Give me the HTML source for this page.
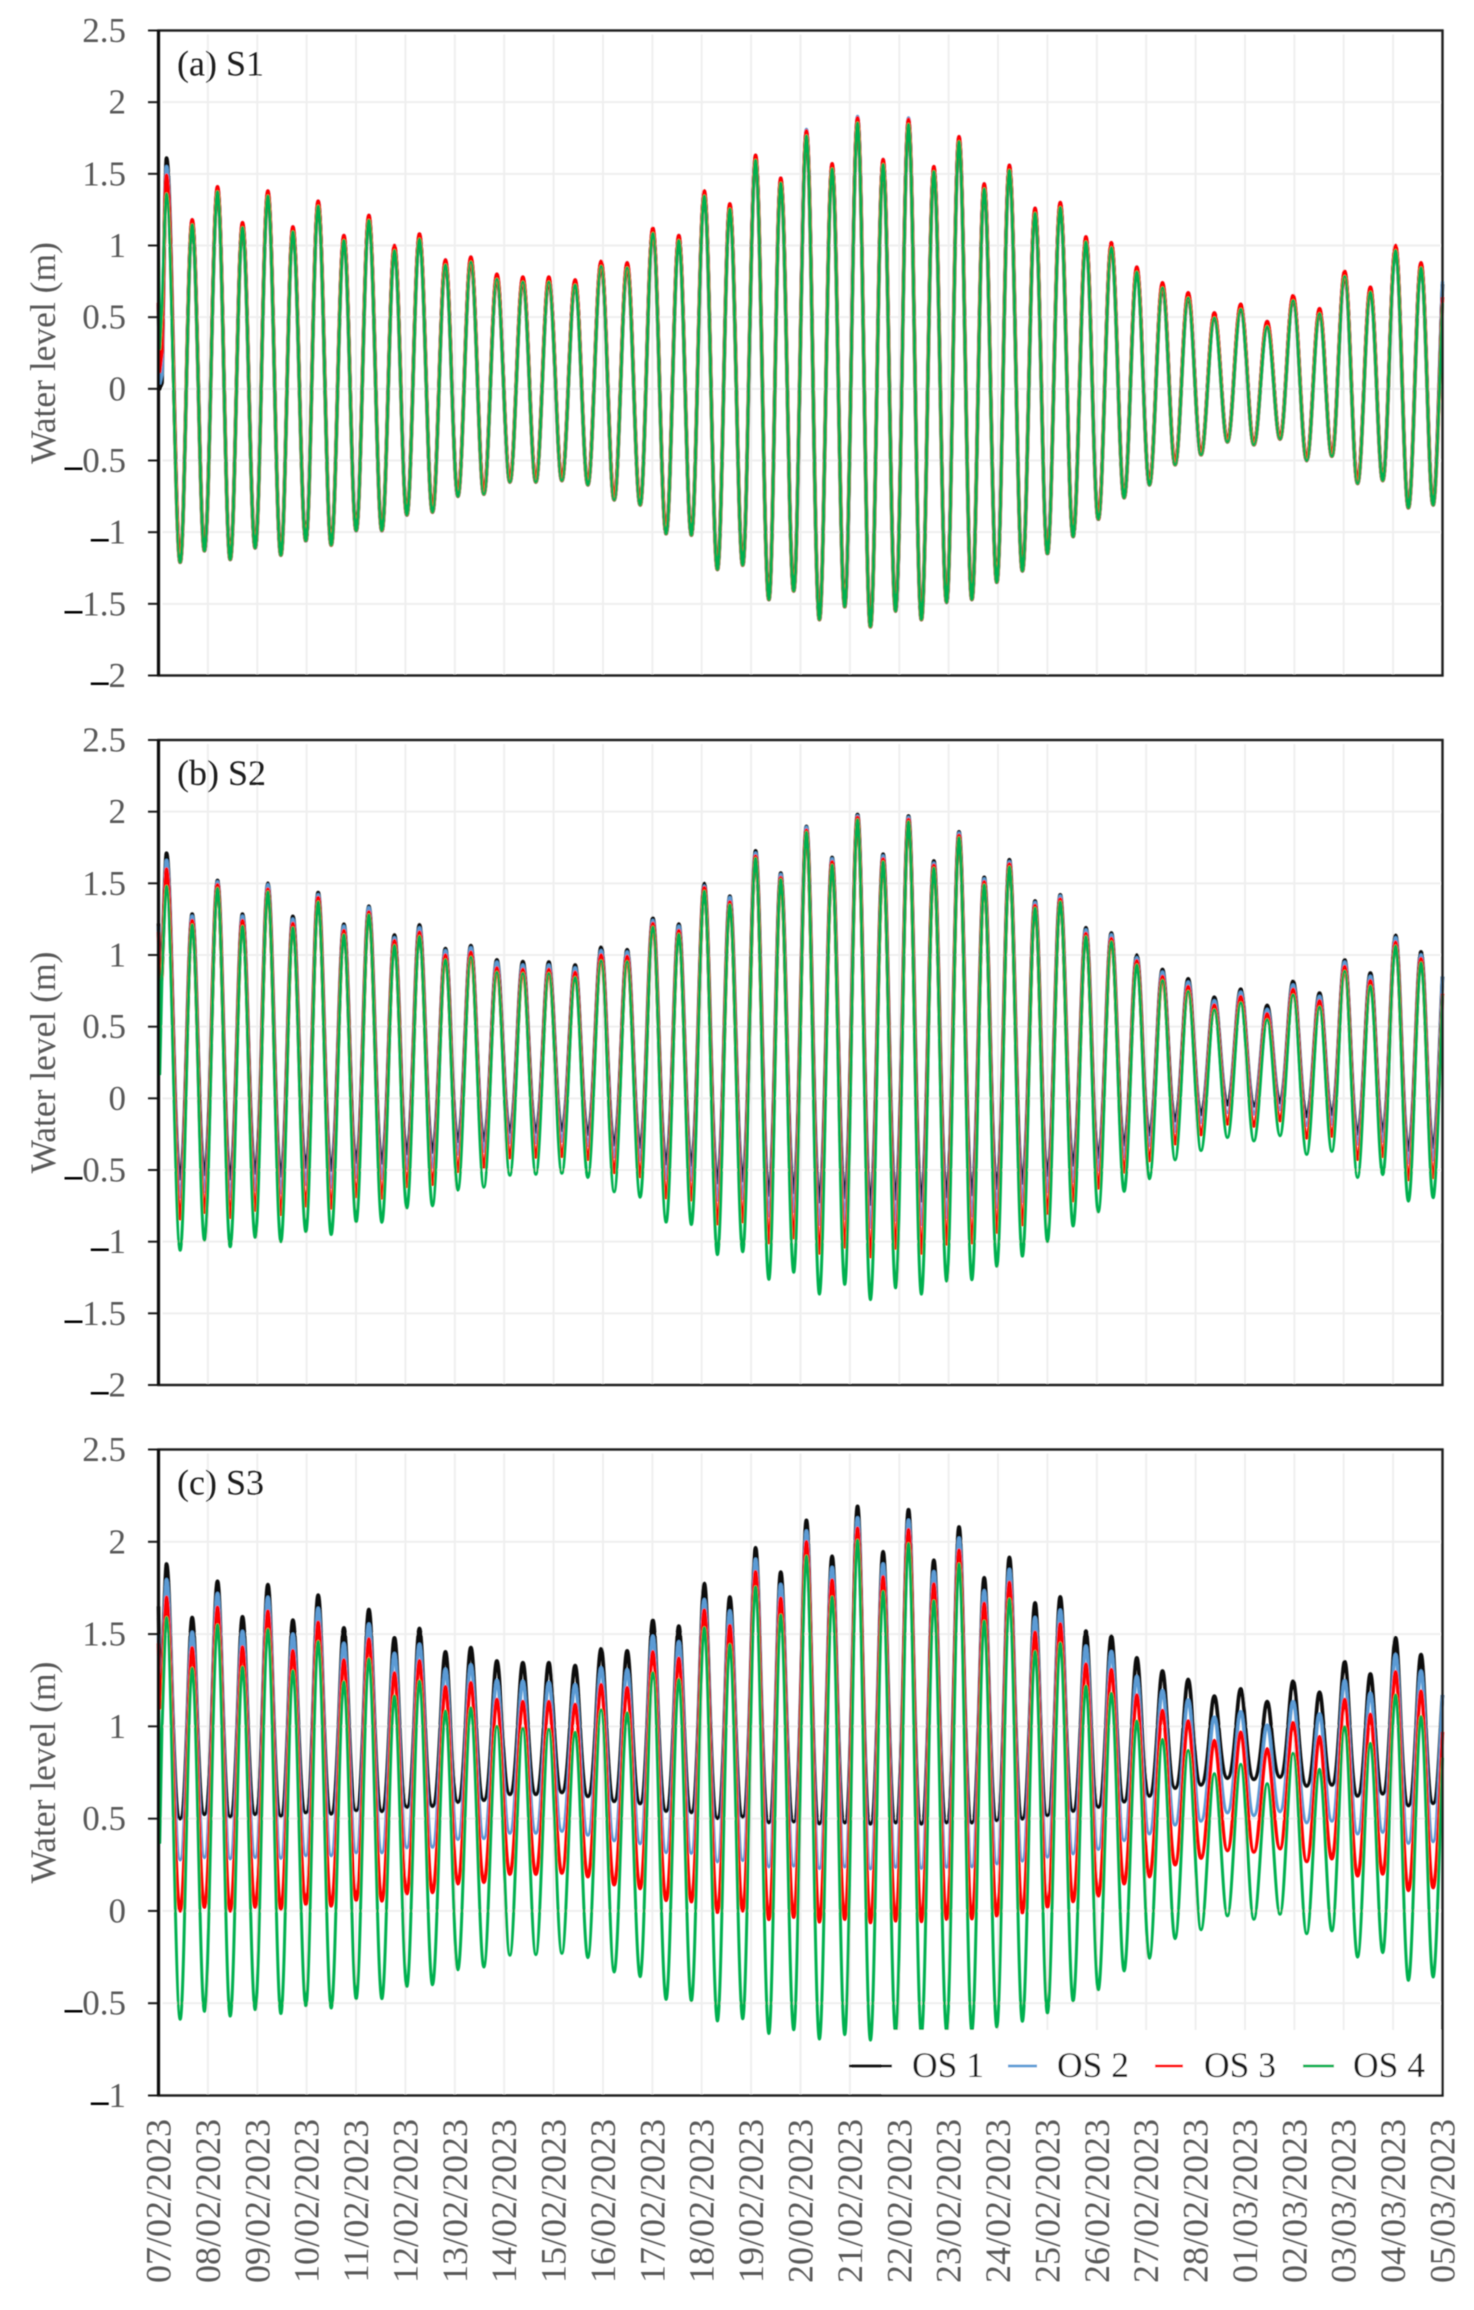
<!DOCTYPE html>
<html lang="en">
<head>
<meta charset="utf-8">
<title>Water level time series, scenarios S1 to S3</title>
<style>
html,body{margin:0;padding:0;background:#fff;}
body{width:1474px;height:2310px;overflow:hidden;}
svg{display:block;}
text{font-family:"Liberation Serif",serif;}
</style>
</head>
<body>
<svg id="chart" xmlns="http://www.w3.org/2000/svg" width="1474" height="2310" viewBox="0 0 1474 2310">
  <defs>
    <filter id="soft" x="-2%" y="-2%" width="104%" height="104%"><feGaussianBlur stdDeviation="0.6"/></filter>
  </defs>
  <rect width="1474" height="2310" fill="#ffffff"/>
  <g id="root" filter="url(#soft)"></g>
</svg>
<script>
// ---- shared categories ----
const dateLabels = ["07/02/2023","08/02/2023","09/02/2023","10/02/2023","11/02/2023","12/02/2023","13/02/2023","14/02/2023","15/02/2023","16/02/2023","17/02/2023","18/02/2023","19/02/2023","20/02/2023","21/02/2023","22/02/2023","23/02/2023","24/02/2023","25/02/2023","26/02/2023","27/02/2023","28/02/2023","01/03/2023","02/03/2023","03/03/2023","04/03/2023","05/03/2023"];
const ticksFrom2p5ToMinus2 = ["2.5","2","1.5","1","0.5","0","-0.5","-1","-1.5","-2"];
const ticksFrom2p5ToMinus1 = ["2.5","2","1.5","1","0.5","0","-0.5","-1"];
const legendLabels = ["OS 1","OS 2","OS 3","OS 4"];

// ---- times of the tidal extrema, in days since 07/02/2023 ----
const peakDays = [.162,.682,1.195,1.701,2.215,2.721,3.233,3.754,4.26,4.778,5.284,5.811,6.325,6.852,7.378,7.904,8.437,8.963,9.49,10.01,10.536,11.052,11.569,12.09,12.6,13.12,13.64,14.155,14.673,15.187,15.7,16.21,16.72,17.23,17.75,18.26,18.78,19.295,19.81,20.33,20.85,21.38,21.915,22.45,22.975,23.51,24.02,24.54,25.05,25.565];
const troughDays = [.439,.931,1.452,1.958,2.478,2.984,3.497,4.003,4.523,5.029,5.548,6.062,6.588,7.115,7.641,8.168,8.694,9.227,9.753,10.279,10.79,11.318,11.83,12.36,12.863,13.383,13.896,14.416,14.926,15.448,15.959,16.47,16.975,17.493,18.0,18.52,19.03,19.553,20.065,20.585,21.11,21.645,22.18,22.71,23.25,23.76,24.28,24.79,25.31,25.81];
const openingDays = [0,.025,.07];
const closingDay = 26;

// ---- (a) S1 ----
const s1Os1Peaks = [1.61,1.17,1.4,1.15,1.37,1.12,1.3,1.06,1.2,.99,1.07,.89,.91,.79,.77,.77,.75,.88,.87,1.11,1.06,1.37,1.28,1.62,1.46,1.79,1.56,1.88,1.59,1.87,1.54,1.75,1.42,1.55,1.25,1.29,1.05,1.01,.84,.73,.66,.52,.58,.46,.64,.55,.81,.7,.99,.87];
const s1Os2Peaks = [1.55,1.18,1.41,1.16,1.38,1.13,1.31,1.07,1.21,1.0,1.08,.9,.92,.8,.78,.78,.76,.89,.88,1.12,1.07,1.38,1.29,1.63,1.47,1.81,1.57,1.9,1.6,1.89,1.55,1.76,1.43,1.56,1.26,1.3,1.06,1.02,.85,.74,.67,.53,.59,.47,.65,.56,.82,.71,1.0,.88];
const s1Os3Peaks = [1.49,1.18,1.41,1.16,1.38,1.13,1.31,1.07,1.21,1.0,1.08,.9,.92,.8,.78,.78,.76,.89,.88,1.12,1.07,1.38,1.29,1.63,1.47,1.8,1.57,1.89,1.6,1.88,1.55,1.76,1.43,1.56,1.26,1.3,1.06,1.02,.85,.74,.67,.53,.59,.47,.65,.56,.82,.71,1.0,.88];
const s1Os4Peaks = [1.36,1.145,1.375,1.125,1.345,1.095,1.275,1.035,1.175,.965,1.045,.865,.885,.765,.745,.745,.725,.855,.845,1.085,1.035,1.345,1.255,1.595,1.435,1.765,1.535,1.855,1.565,1.845,1.515,1.725,1.395,1.525,1.225,1.265,1.025,.985,.815,.705,.635,.495,.555,.435,.615,.525,.785,.675,.965,.845];
const s1Troughs = [-1.21,-1.13,-1.19,-1.11,-1.16,-1.06,-1.09,-.99,-.99,-.88,-.86,-.75,-.735,-.65,-.65,-.64,-.67,-.775,-.81,-1.01,-1.02,-1.26,-1.23,-1.47,-1.41,-1.61,-1.52,-1.66,-1.55,-1.61,-1.49,-1.47,-1.35,-1.27,-1.15,-1.03,-.91,-.76,-.67,-.53,-.46,-.37,-.39,-.35,-.5,-.47,-.66,-.64,-.83,-.81];
const s1Os1Opening = [.6,0,.04];
const s1Os2Opening = [.6,.04,.1];
const s1Os3Opening = [.6,.12,.25];
const s1Os4Opening = [.95,.28,.55];
const s1Closing = [.73,.75,.64,.6];

// ---- (b) S2 ----
const s2Os1Peaks = [1.71,1.285,1.52,1.285,1.5,1.27,1.435,1.215,1.34,1.14,1.21,1.045,1.066,.966,.954,.951,.93,1.054,1.037,1.257,1.216,1.498,1.41,1.727,1.571,1.897,1.68,1.982,1.703,1.97,1.656,1.859,1.542,1.665,1.377,1.42,1.19,1.154,.999,.899,.834,.705,.761,.649,.816,.734,.966,.875,1.137,1.022];
const s2Os2Peaks = [1.66,1.27,1.51,1.27,1.49,1.25,1.42,1.2,1.33,1.12,1.19,1.03,1.05,.95,.93,.93,.91,1.03,1.02,1.24,1.2,1.48,1.4,1.71,1.56,1.89,1.67,1.97,1.69,1.96,1.64,1.85,1.53,1.65,1.365,1.41,1.175,1.14,.98,.88,.81,.68,.74,.62,.79,.71,.95,.85,1.12,1.0];
const s2Os3Peaks = [1.6,1.24,1.49,1.24,1.46,1.22,1.4,1.17,1.3,1.1,1.16,1.0,1.02,.91,.9,.9,.88,1.0,.99,1.22,1.17,1.47,1.37,1.69,1.54,1.87,1.65,1.96,1.67,1.945,1.625,1.835,1.51,1.635,1.345,1.39,1.15,1.115,.96,.85,.78,.65,.71,.59,.76,.68,.92,.82,1.09,.975];
const s2Os4Peaks = [1.48,1.21,1.465,1.2,1.44,1.19,1.37,1.14,1.28,1.066,1.13,.967,.985,.88,.872,.872,.843,.96,.954,1.195,1.145,1.445,1.35,1.674,1.527,1.856,1.627,1.944,1.65,1.93,1.606,1.818,1.489,1.615,1.327,1.37,1.128,1.092,.931,.822,.746,.617,.667,.549,.722,.637,.887,.784,1.063,.946];
const s2Os1Troughs = [-.56,-.53,-.56,-.52,-.54,-.48,-.5,-.445,-.45,-.385,-.375,-.3,-.294,-.235,-.235,-.223,-.25,-.323,-.34,-.455,-.464,-.587,-.573,-.675,-.655,-.72,-.69,-.737,-.7,-.714,-.684,-.67,-.626,-.59,-.535,-.464,-.411,-.323,-.253,-.156,-.112,-.044,-.053,-.029,-.126,-.112,-.247,-.229,-.361,-.341];
const s2Os2Troughs = [-.69,-.65,-.69,-.64,-.66,-.6,-.62,-.55,-.56,-.49,-.48,-.39,-.37,-.31,-.31,-.3,-.33,-.41,-.43,-.56,-.57,-.71,-.7,-.82,-.79,-.88,-.84,-.9,-.85,-.88,-.83,-.82,-.76,-.72,-.65,-.58,-.5,-.41,-.33,-.23,-.17,-.1,-.11,-.08,-.19,-.18,-.32,-.3,-.45,-.43];
const s2Os3Troughs = [-.84,-.795,-.83,-.78,-.81,-.75,-.765,-.685,-.695,-.615,-.6,-.51,-.48,-.414,-.41,-.405,-.426,-.517,-.546,-.693,-.708,-.875,-.86,-1.007,-.972,-1.08,-1.037,-1.104,-1.045,-1.08,-1.016,-1.007,-.934,-.881,-.802,-.714,-.626,-.514,-.435,-.317,-.253,-.179,-.194,-.156,-.276,-.264,-.426,-.405,-.567,-.552];
const s2Os4Troughs = [-1.06,-.99,-1.035,-.97,-1.0,-.93,-.95,-.86,-.865,-.765,-.75,-.64,-.62,-.537,-.53,-.523,-.552,-.652,-.69,-.863,-.88,-1.09,-1.07,-1.263,-1.213,-1.366,-1.298,-1.404,-1.322,-1.366,-1.275,-1.266,-1.172,-1.101,-1.0,-.89,-.793,-.649,-.561,-.429,-.364,-.273,-.297,-.261,-.391,-.37,-.552,-.532,-.717,-.693];
const s2Os1Opening = [1.22,.85,.95];
const s2Os2Opening = [1.2,.8,.9];
const s2Os3Opening = [1.16,.75,.85];
const s2Os4Opening = [1.05,.17,.85];
const s2Closing = [.85,.85,.73,.72];

// ---- (c) S3 ----
const s3Os1Peaks = [1.88,1.59,1.786,1.594,1.768,1.576,1.711,1.534,1.633,1.48,1.53,1.404,1.427,1.354,1.345,1.345,1.329,1.42,1.409,1.575,1.543,1.774,1.701,1.968,1.836,2.116,1.922,2.192,1.946,2.174,1.9,2.08,1.805,1.916,1.669,1.702,1.516,1.489,1.371,1.3,1.254,1.164,1.203,1.134,1.245,1.185,1.35,1.284,1.48,1.389];
const s3Os2Peaks = [1.795,1.51,1.72,1.515,1.7,1.5,1.64,1.45,1.555,1.395,1.445,1.31,1.333,1.249,1.244,1.237,1.226,1.317,1.306,1.489,1.459,1.687,1.626,1.906,1.769,2.059,1.861,2.13,1.88,2.117,1.838,2.02,1.735,1.85,1.59,1.63,1.435,1.405,1.27,1.194,1.143,1.05,1.08,1.007,1.134,1.068,1.248,1.179,1.389,1.299];
const s3Os3Peaks = [1.7,1.426,1.645,1.43,1.624,1.41,1.564,1.36,1.474,1.29,1.356,1.215,1.237,1.146,1.135,1.135,1.119,1.226,1.21,1.404,1.37,1.63,1.546,1.838,1.694,2.0,1.792,2.074,1.81,2.066,1.771,1.955,1.666,1.78,1.51,1.555,1.338,1.308,1.17,1.086,1.029,.923,.968,.878,1.02,.944,1.146,1.065,1.296,1.191];
const s3Os4Peaks = [1.59,1.314,1.55,1.32,1.525,1.3,1.459,1.24,1.365,1.164,1.245,1.083,1.1,1.0,.989,.984,.968,1.089,1.073,1.29,1.253,1.534,1.443,1.756,1.603,1.922,1.701,2.008,1.73,1.99,1.68,1.88,1.57,1.69,1.405,1.45,1.218,1.179,1.029,.929,.869,.743,.794,.689,.854,.767,.998,.908,1.17,1.053];
const s3Os1Troughs = [.5,.523,.51,.523,.514,.532,.526,.544,.54,.562,.568,.59,.6,.632,.632,.642,.621,.594,.582,.541,.534,.502,.509,.479,.484,.473,.478,.472,.478,.472,.478,.478,.49,.499,.517,.541,.562,.592,.623,.665,.683,.719,.713,.725,.677,.683,.623,.635,.571,.583];
const s3Os2Troughs = [.277,.29,.283,.29,.286,.3,.3,.316,.316,.343,.346,.388,.393,.422,.422,.432,.411,.381,.365,.317,.313,.267,.274,.24,.244,.231,.24,.229,.238,.232,.238,.24,.256,.271,.292,.31,.334,.382,.418,.466,.487,.532,.517,.538,.478,.487,.418,.427,.367,.376];
const s3Os3Troughs = [0,.02,0,.02,.01,.036,.027,.057,.054,.093,.1,.147,.155,.199,.199,.205,.185,.142,.121,.057,.05,-.007,0,-.046,-.034,-.059,-.045,-.063,-.054,-.057,-.045,-.042,-.027,-.009,.021,.051,.081,.147,.186,.25,.286,.327,.319,.337,.268,.283,.19,.2,.111,.126];
const s3Os4Troughs = [-.587,-.544,-.57,-.535,-.556,-.514,-.526,-.475,-.475,-.409,-.4,-.319,-.304,-.24,-.237,-.23,-.253,-.331,-.356,-.479,-.486,-.596,-.584,-.664,-.644,-.694,-.67,-.7,-.66,-.67,-.65,-.65,-.629,-.598,-.553,-.487,-.427,-.325,-.256,-.15,-.102,-.027,-.045,-.018,-.123,-.108,-.25,-.226,-.376,-.358];
const s3Os1Opening = [1.65,1.2,1.3];
const s3Os2Opening = [1.5,1.15,1.25];
const s3Os3Opening = [1.45,1.1,1.2];
const s3Os4Opening = [1.15,.37,1.0];
const s3Closing = [1.17,1.17,.97,.83];

// ---- drawing ----
const NS = 'http://www.w3.org/2000/svg';
const root = document.getElementById('root');
const AXIS_LEFT = 158.5, AXIS_RIGHT = 1442.5, TOTAL_DAYS = 26;
const SERIES_STYLES = [
  {key:'os-1', color:'#111111', width:3.7},
  {key:'os-2', color:'#5b9bd5', width:3.4},
  {key:'os-3', color:'#ff0000', width:3.5},
  {key:'os-4', color:'#00b050', width:3.0}
];

function make(tag, attrs, parent) {
  const el = document.createElementNS(NS, tag);
  for (const k in attrs) el.setAttribute(k, attrs[k]);
  parent.appendChild(el);
  return el;
}
function xScale(day) {
  return AXIS_LEFT + day * (AXIS_RIGHT - AXIS_LEFT) / TOTAL_DAYS;
}

function seriesPath(yScale, peaks, troughs, opening, closing, kPeak, kTrough) {
  let d = '';
  openingDays.forEach(function (day, i) {
    d += (i ? 'L' : 'M') + xScale(day).toFixed(2) + ' ' + yScale(opening[i]).toFixed(2);
  });
  let px = xScale(openingDays[openingDays.length - 1]);
  let py = yScale(opening[opening.length - 1]);
  let prevK = 0.1;
  peaks.forEach(function (p, i) {
    const x1 = xScale(peakDays[i]), y1 = yScale(p);
    d += 'C' + (px + prevK * (x1 - px)).toFixed(2) + ' ' + py.toFixed(2) + ' ' +
         (x1 - kPeak * (x1 - px)).toFixed(2) + ' ' + y1.toFixed(2) + ' ' + x1.toFixed(2) + ' ' + y1.toFixed(2);
    const x2 = xScale(troughDays[i]), y2 = yScale(troughs[i]);
    d += 'C' + (x1 + kPeak * (x2 - x1)).toFixed(2) + ' ' + y1.toFixed(2) + ' ' +
         (x2 - kTrough * (x2 - x1)).toFixed(2) + ' ' + y2.toFixed(2) + ' ' + x2.toFixed(2) + ' ' + y2.toFixed(2);
    px = x2; py = y2; prevK = kTrough;
  });
  const xe = xScale(closingDay), ye = yScale(closing);
  d += 'C' + (px + kTrough * (xe - px)).toFixed(2) + ' ' + py.toFixed(2) + ' ' +
       (xe - 0.25 * (xe - px)).toFixed(2) + ' ' + (ye + 0.25 * (py - ye)).toFixed(2) + ' ' + xe.toFixed(2) + ' ' + ye.toFixed(2);
  return d;
}

function drawPanel(cfg) {
  const g = make('g', {}, root);
  
  
  const yScale = function (v) {
    return cfg.top + (cfg.yMax - v) * (cfg.bottom - cfg.top) / (cfg.yMax - cfg.yMin);
  };

  // gridlines
  cfg.ticks.forEach(function (t) {
    const y = yScale(parseFloat(t));
    const line = make('line', {x1: AXIS_LEFT + 4, x2: AXIS_RIGHT - 2, y1: y, y2: y, stroke: '#efefef', 'stroke-width': 2}, g);
    
    
  });
  dateLabels.forEach(function (label, i) {
    if (i === 0 || i === dateLabels.length - 1) return;
    const x = xScale(i);
    const line = make('line', {x1: x, x2: x, y1: cfg.top + 4, y2: cfg.bottom, stroke: '#efefef', 'stroke-width': 2}, g);
    
    
  });

  // series
  cfg.series.forEach(function (s, i) {
    const style = SERIES_STYLES[i];
    const path = make('path', {
      d: seriesPath(yScale, s.peaks, s.troughs, s.opening, cfg.closing[i], s.kPeak, s.kTrough),
      fill: 'none', stroke: style.color, 'stroke-width': style.width, 'stroke-linejoin': 'round'
    }, g);
    
    
  });

  // y-axis ticks and labels
  cfg.ticks.forEach(function (t) {
    const v = parseFloat(t), y = yScale(v);
    const tick = make('line', {x1: 148, x2: AXIS_LEFT, y1: y, y2: y, stroke: '#1a1a1a', 'stroke-width': 2}, g);
    
    
    const text = make('text', {x: 126, y: y + 11.5, 'text-anchor': 'end', 'font-size': 35, fill: '#595959'}, g);
    
    
    if (v < 0) {
      const dash = make('tspan', {fill: '#000000', 'font-weight': 'bold', dy: 5}, text);
      dash.textContent = '\u2013';
      const rest = make('tspan', {dy: -5}, text);
      rest.textContent = t.slice(1);
    } else {
      text.textContent = t;
    }
  });

  // axis title
  const midY = (cfg.top + cfg.bottom) / 2;
  const title = make('text', {
    x: 55, y: midY, 'text-anchor': 'middle', 'font-size': 35.5, fill: '#595959',
    transform: 'rotate(-90 55 ' + midY + ')'
  }, g);
  
  
  title.textContent = 'Water level (m)';

  // panel label
  const lab = make('text', {x: 177, y: cfg.top + 45, 'font-size': 36, fill: '#1a1a1a'}, g);
  
  
  lab.textContent = cfg.label;

  // legend on the last panel (drawn before the frame so the frame stays on top)
  if (cfg.legend) drawLegend(g);

  // frame
  const frame = make('rect', {
    x: AXIS_LEFT, y: cfg.top, width: AXIS_RIGHT - AXIS_LEFT, height: cfg.bottom - cfg.top,
    fill: 'none', stroke: '#1f1f1f', 'stroke-width': 2.4
  }, g);
  
  
  const yAxis = make('line', {x1: AXIS_LEFT, x2: AXIS_LEFT, y1: cfg.top, y2: cfg.bottom, stroke: '#111111', 'stroke-width': 3.2}, g);
  
  
}

function drawLegend(parent) {
  const lg = make('g', {}, parent);
  
  
  const bg = make('rect', {x: 882, y: 2030, width: AXIS_RIGHT - 882, height: 65, fill: '#ffffff'}, lg);
  
  
  const swatchFrom = [849, 1008, 1155, 1303];
  const swatchTo = [892, 1037, 1183, 1334];
  const textFrom = [912, 1057, 1204, 1353];
  legendLabels.forEach(function (label, i) {
    const sw = make('line', {x1: swatchFrom[i], x2: swatchTo[i], y1: 2066, y2: 2066, stroke: SERIES_STYLES[i].color, 'stroke-width': 2.8}, lg);
    
    
    const t = make('text', {x: textFrom[i], y: 2077, 'font-size': 35.5, fill: '#1a1a1a'}, lg);
    
    
    t.textContent = label;
  });
}

const K = 0.3642;
drawPanel({
  id: 's1', label: '(a) S1', top: 30.5, bottom: 675.5, yMin: -2, yMax: 2.5,
  ticks: ticksFrom2p5ToMinus2, closing: s1Closing,
  series: [
    {peaks: s1Os1Peaks, troughs: s1Troughs, opening: s1Os1Opening, kPeak: K, kTrough: K},
    {peaks: s1Os2Peaks, troughs: s1Troughs, opening: s1Os2Opening, kPeak: K, kTrough: K},
    {peaks: s1Os3Peaks, troughs: s1Troughs, opening: s1Os3Opening, kPeak: K, kTrough: K},
    {peaks: s1Os4Peaks, troughs: s1Troughs, opening: s1Os4Opening, kPeak: K, kTrough: K}
  ]
});
drawPanel({
  id: 's2', label: '(b) S2', top: 740, bottom: 1385, yMin: -2, yMax: 2.5,
  ticks: ticksFrom2p5ToMinus2, closing: s2Closing,
  series: [
    {peaks: s2Os1Peaks, troughs: s2Os1Troughs, opening: s2Os1Opening, kPeak: 0.34, kTrough: 0.42},
    {peaks: s2Os2Peaks, troughs: s2Os2Troughs, opening: s2Os2Opening, kPeak: 0.35, kTrough: 0.39},
    {peaks: s2Os3Peaks, troughs: s2Os3Troughs, opening: s2Os3Opening, kPeak: 0.35, kTrough: 0.38},
    {peaks: s2Os4Peaks, troughs: s2Os4Troughs, opening: s2Os4Opening, kPeak: K, kTrough: K}
  ]
});
drawPanel({
  id: 's3', label: '(c) S3', top: 1449.5, bottom: 2095.5, yMin: -1, yMax: 2.5, legend: true,
  ticks: ticksFrom2p5ToMinus1, closing: s3Closing,
  series: [
    {peaks: s3Os1Peaks, troughs: s3Os1Troughs, opening: s3Os1Opening, kPeak: 0.3, kTrough: 0.56},
    {peaks: s3Os2Peaks, troughs: s3Os2Troughs, opening: s3Os2Opening, kPeak: 0.32, kTrough: 0.48},
    {peaks: s3Os3Peaks, troughs: s3Os3Troughs, opening: s3Os3Opening, kPeak: 0.33, kTrough: 0.42},
    {peaks: s3Os4Peaks, troughs: s3Os4Troughs, opening: s3Os4Opening, kPeak: K, kTrough: K}
  ]
});

// x-axis date labels under the last panel
const xAxis = make('g', {}, root);


dateLabels.forEach(function (label, i) {
  const x = xScale(i) + 12;
  const t = make('text', {
    x: x, y: 2201, 'text-anchor': 'middle', 'font-size': 36, fill: '#595959',
    transform: 'rotate(-90 ' + x + ' 2201)'
  }, xAxis);
  
  
  t.textContent = label;
});
</script>
</body>
</html>
